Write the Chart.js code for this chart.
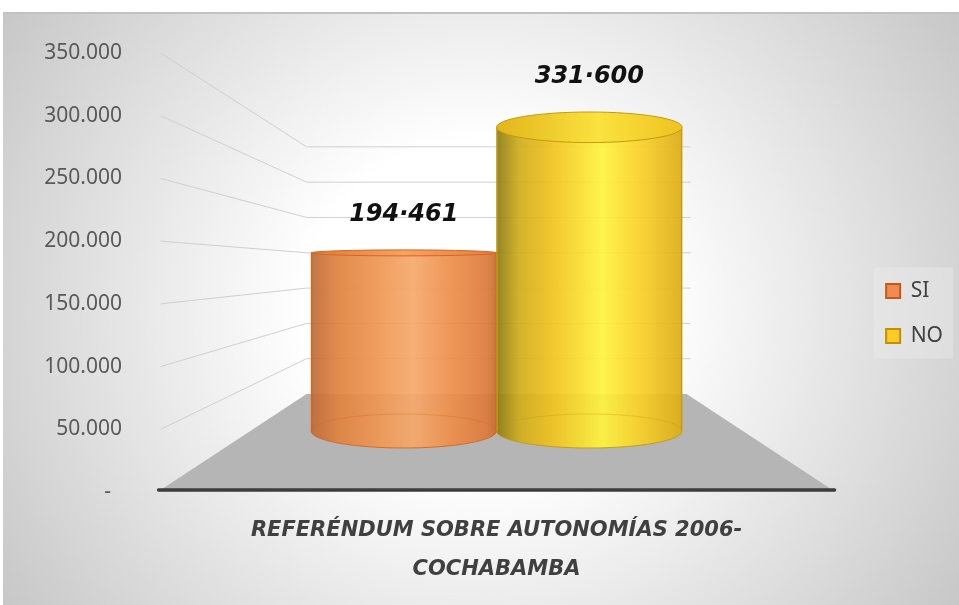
<!DOCTYPE html>
<html>
<head>
<meta charset="utf-8">
<script src="https://cdn.jsdelivr.net/npm/chart.js@4.4.1/dist/chart.umd.min.js"></script>
<style>
  html, body { margin: 0; padding: 0; background: #fff; }
  #wrap { position: relative; width: 959px; height: 605px; overflow: hidden; }
  #bg {
    position: absolute; left: 3px; top: 12px; right: 0; bottom: 0;
    border-top: 2px solid #c2c2c2;
    background: radial-gradient(ellipse 62% 95% at 50% 50%, #ffffff 30%, #c4c4c4 100%);
  }
  canvas { position: absolute; left: 0; top: 0; }
</style>
</head>
<body>
<div id="wrap"><div id="bg"></div><canvas id="chart" width="959" height="605"></canvas></div>
<script>
// data
const categories = [['REFERÉNDUM SOBRE AUTONOMÍAS 2006-', 'COCHABAMBA']];
const seriesNames = ['SI', 'NO'];
const siValues = [194461];
const noValues = [331600];
const yTickValues = [0, 50000, 100000, 150000, 200000, 250000, 300000, 350000];
const yTickLabels = ['-', '50.000', '100.000', '150.000', '200.000', '250.000', '300.000', '350.000'];

// cylinder looks
const cylStyles = [
  {
    body: [[0, '#bf6a36'], [0.15, '#e0823f'], [0.35, '#ee9551'], [0.55, '#f6a96b'], [0.75, '#ee8e4b'], [0.95, '#dc7a3a'], [1, '#c56a31']],
    top: [[0, '#de7a38'], [0.5, '#f6a265'], [1, '#e27e3c']],
    edge: '#d4661f',
    legendFill: '#ef8d50', legendStroke: '#c5591a'
  },
  {
    body: [[0, '#8a7a12'], [0.12, '#cfac1a'], [0.3, '#f1c31d'], [0.57, '#fff33d'], [0.78, '#f9cf26'], [1, '#dcac16']],
    top: [[0, '#e2b51c'], [0.55, '#fbe23e'], [1, '#eec321']],
    edge: '#c29b0d',
    legendFill: '#ffca28', legendStroke: '#c09000'
  }
];

function fmtDot(v) {
  return String(v).replace(/\B(?=(\d{3})+(?!\d))/g, '·');
}

function hGrad(ctx, left, right, stops) {
  const g = ctx.createLinearGradient(left, 0, right, 0);
  stops.forEach(s => g.addColorStop(s[0], s[1]));
  return g;
}

const cylinderPlugin = {
  id: 'cylinder3d',
  beforeDraw(chart) {
    // soft panel behind the legend
    const hb = chart.legend.legendHitBoxes;
    if (!hb || !hb.length) return;
    const ctx = chart.ctx;
    const last = hb[hb.length - 1];
    ctx.save();
    ctx.fillStyle = 'rgba(236,236,236,0.45)';
    ctx.fillRect(hb[0].left - 12, hb[0].top - 13, 79, last.top + last.height - hb[0].top + 25);
    ctx.restore();
  },
  beforeDatasetsDraw(chart) {
    const ctx = chart.ctx;
    const xs = chart.scales.x, ys = chart.scales.y;
    const cx = xs.getPixelForValue(0);
    const y0 = ys.getPixelForValue(0);
    const backY = v => (y0 - 98) - (y0 - ys.getPixelForValue(v)) * 0.563;
    const frontHalf = 336, backHalf = 190;

    ctx.save();
    // floor
    ctx.fillStyle = '#b5b5b5';
    ctx.beginPath();
    ctx.moveTo(cx - frontHalf, y0 - 2);
    ctx.lineTo(cx - backHalf, backY(0));
    ctx.lineTo(cx + backHalf, backY(0));
    ctx.lineTo(cx + frontHalf, y0 - 2);
    ctx.closePath();
    ctx.fill();

    // perspective grid lines
    ctx.lineWidth = 1;
    ys.ticks.forEach(t => {
      if (t.value === 0) return;
      const ly = ys.getPixelForValue(t.value);
      const by = backY(t.value);
      ctx.strokeStyle = '#cfcfcf';
      ctx.beginPath();
      ctx.moveTo(cx - frontHalf, ly);
      ctx.lineTo(cx - backHalf, by);
      ctx.lineTo(cx + backHalf + 4, by);
      ctx.stroke();
    });

    // front edge of the floor
    ctx.strokeStyle = '#3d3d3d';
    ctx.lineWidth = 3.5;
    ctx.lineCap = 'round';
    ctx.beginPath();
    ctx.moveTo(cx - frontHalf - 2, y0 - 2);
    ctx.lineTo(cx + frontHalf + 2, y0 - 2);
    ctx.stroke();
    ctx.restore();
  },
  afterDatasetsDraw(chart) {
    const ctx = chart.ctx;
    chart.data.datasets.forEach((ds, di) => {
      const meta = chart.getDatasetMeta(di);
      const st = cylStyles[di];
      meta.data.forEach((el, i) => {
        const p = el.getProps(['x', 'y', 'base', 'width'], true);
        const left = p.x - p.width / 2, right = p.x + p.width / 2, rx = p.width / 2;
        const ryB = 17;
        const ryT = Math.max(3, Math.abs(p.y - 280) * 0.1);

        ctx.save();
        ctx.globalAlpha = 0.92;
        // body
        ctx.fillStyle = hGrad(ctx, left, right, st.body);
        ctx.beginPath();
        ctx.moveTo(left, p.y);
        ctx.lineTo(left, p.base);
        ctx.ellipse(p.x, p.base, rx, ryB, 0, Math.PI, 0, true);
        ctx.lineTo(right, p.y);
        ctx.closePath();
        ctx.fill();

        // bottom rim
        ctx.lineWidth = 1;
        ctx.strokeStyle = st.edge;
        ctx.globalAlpha = 0.35;
        ctx.beginPath();
        ctx.ellipse(p.x, p.base, rx, ryB, 0, Math.PI, 0, false);
        ctx.stroke();
        ctx.globalAlpha = 0.9;
        ctx.beginPath();
        ctx.ellipse(p.x, p.base, rx, ryB, 0, Math.PI, 0, true);
        ctx.stroke();

        // sides
        ctx.lineWidth = 1.5;
        ctx.beginPath();
        ctx.moveTo(left + 0.5, p.y);
        ctx.lineTo(left + 0.5, p.base);
        ctx.moveTo(right - 0.5, p.y);
        ctx.lineTo(right - 0.5, p.base);
        ctx.stroke();

        // top face
        ctx.globalAlpha = 1;
        ctx.fillStyle = hGrad(ctx, left, right, st.top);
        ctx.beginPath();
        ctx.ellipse(p.x, p.y, rx, ryT, 0, 0, Math.PI * 2);
        ctx.fill();
        ctx.lineWidth = 1;
        ctx.strokeStyle = st.edge;
        ctx.stroke();

        // value label
        ctx.fillStyle = '#111';
        ctx.font = 'italic bold 24px "DejaVu Sans"';
        ctx.textAlign = 'center';
        ctx.textBaseline = 'middle';
        ctx.fillText(fmtDot(ds.data[i]), p.x, p.y - ryT - 35);
        ctx.restore();
      });
    });
  }
};

const ctx = document.getElementById('chart').getContext('2d');

const chart = new Chart(ctx, {
  type: 'bar',
  data: {
    labels: categories,
    datasets: [
      { label: seriesNames[0], data: siValues, yAxisID: 'yb', backgroundColor: 'rgba(0,0,0,0)', borderWidth: 0 },
      { label: seriesNames[1], data: noValues, yAxisID: 'yb', backgroundColor: 'rgba(0,0,0,0)', borderWidth: 0 }
    ]
  },
  options: {
    responsive: false,
    animation: false,
    devicePixelRatio: 1,
    categoryPercentage: 0.5075,
    barPercentage: 1.0,
    layout: { padding: { top: 53, right: 6, bottom: 0, left: 0 } },
    plugins: {
      tooltip: { enabled: false },
      legend: {
        position: 'right',
        fullSize: false,
        title: { display: true, text: '', padding: { top: 35, bottom: 35 }, font: { size: 12, lineHeight: 1 } },
        labels: {
          boxWidth: 14,
          boxHeight: 14,
          padding: 24,
          color: '#404040',
          font: { family: '"Noto Sans"', size: 21 },
          generateLabels: (c) => c.data.datasets.map((ds, i) => ({
            text: ds.label,
            fillStyle: cylStyles[i].legendFill,
            strokeStyle: cylStyles[i].legendStroke,
            lineWidth: 2,
            hidden: false,
            datasetIndex: i,
            fontColor: '#404040'
          }))
        }
      }
    },
    scales: {
      x: {
        grid: { display: false, drawTicks: false },
        border: { display: false },
        ticks: {
          color: '#404040',
          padding: 19,
          maxRotation: 0,
          minRotation: 0,
          autoSkip: false,
          font: { family: '"DejaVu Sans"', size: 21, style: 'italic', weight: 'bold', lineHeight: 39 / 21 }
        },
        afterFit: (s) => { s.height = 113; }
      },
      y: {
        position: 'left',
        min: 0,
        max: 350000,
        grid: { display: false, drawTicks: false },
        border: { display: false },
        ticks: {
          stepSize: 50000,
          padding: 9,
          color: '#595959',
          font: { family: '"Noto Sans"', size: 21 },
          callback: (v) => {
            const lab = yTickLabels[yTickValues.indexOf(v)];
            return lab === '-' ? '-  ' : lab;
          }
        },
        afterFit: (s) => { s.width = 131; }
      },
      yb: {
        display: false,
        position: 'left',
        min: -66600,
        max: 412700
      }
    }
  },
  plugins: [cylinderPlugin]
});
</script>
</body>
</html>
